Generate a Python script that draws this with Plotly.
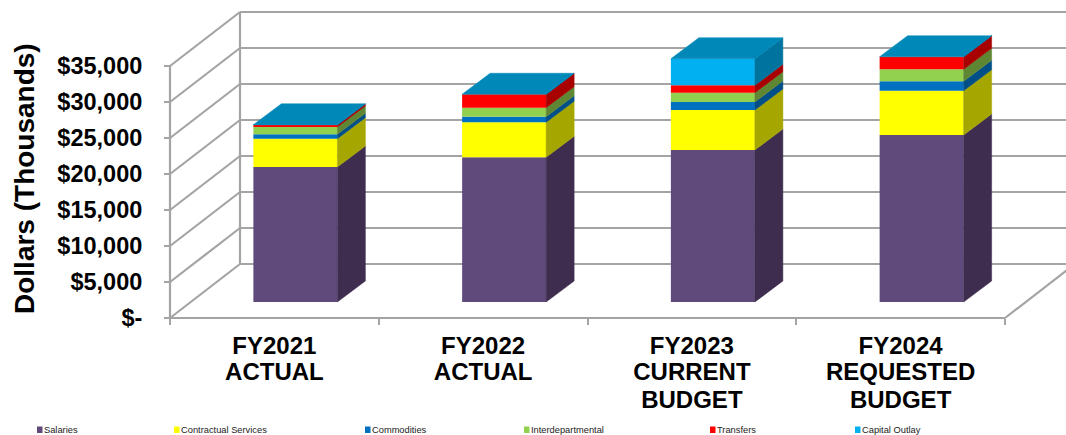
import plotly.graph_objects as go

# ---------- data ----------
series_names = ["Salaries", "Contractual Services", "Commodities", "Interdepartmental", "Transfers", "Capital Outlay"]
salaries = [18750, 20100, 21110, 23190]
contractual = [3930, 4860, 5555, 6150]
commodities = [610, 780, 1110, 1305]
interdepartmental = [1015, 1250, 1290, 1670]
transfers = [280, 1860, 1030, 1750]
capital_outlay = [30, 0, 3690, 0]
label_row1 = ["FY2021", "FY2022", "FY2023", "FY2024"]
label_row2 = ["ACTUAL", "ACTUAL", "CURRENT", "REQUESTED"]
label_row3 = ["", "", "BUDGET", "BUDGET"]
y_ticks = [0, 5000, 10000, 15000, 20000, 25000, 30000, 35000]
y_labels = ["$-", "$5,000", "$10,000", "$15,000", "$20,000", "$25,000", "$30,000", "$35,000"]
values = [salaries, contractual, commodities, interdepartmental, transfers, capital_outlay]

# ---------- style / layout ----------
W, H = 1066, 435
PX_X0, PX_Y0 = 170, 318          # pixel of the front floor corner
PX_PER_CAT = 208.75
PX_PER_VAL = 36 / 5000
front = ["#604A7B", "#FFFF00", "#0070C0", "#92D050", "#FF0000", "#00B0F0"]
side = ["#3F2D4F", "#A6A600", "#004F87", "#5F8733", "#A80000", "#00749E"]
top_color = "#0088B8"
grid = "#A4A4A4"
FONT = "Liberation Sans, Arial, sans-serif"


def dx(px):
    return px / PX_PER_CAT


def dv(px):
    return px / PX_PER_VAL


x_range = [dx(-PX_X0), dx(W - PX_X0)]
y_range = [dv(PX_Y0 - H), dv(PX_Y0)]
WALL_X, WALL_Y = dx(70), dv(54)       # depth of the chart box
BAR_X, BAR_Y = dx(21), dv(16)         # front plane of the bars
BAR_W = dx(84)
SIDE_X, SIDE_Y = dx(28), dv(21)       # depth of a bar

fig = go.Figure()

# the back wall is its own subplot: real y gridlines, lying under every other subplot
fig.add_trace(go.Scatter(x=[None], y=[None], xaxis="x", yaxis="y", showlegend=False, hoverinfo="skip"))

# front faces, side faces, top faces
for i, name in enumerate(series_names):
    base, xs = [], []
    for c in range(4):
        base.append(BAR_Y + sum(values[s][c] for s in range(i)))
        xs.append(c + 0.5 + BAR_X)
    fig.add_trace(go.Bar(x=xs, y=values[i], base=base, width=BAR_W, name=name, xaxis="x4", yaxis="y2",
                         marker=dict(color=front[i], line=dict(width=0)),
                         showlegend=False, hoverinfo="skip"))
for i, name in enumerate(series_names):
    for c in range(4):
        v0 = BAR_Y + sum(values[s][c] for s in range(i))
        v1 = v0 + values[i][c]
        xr = c + 0.5 + BAR_X + BAR_W / 2
        fig.add_trace(go.Scatter(
            x=[xr, xr + SIDE_X, xr + SIDE_X, xr, xr],
            y=[v0, v0 + SIDE_Y, v1 + SIDE_Y, v1, v0],
            xaxis="x4", yaxis="y2",
            mode="lines", fill="toself", fillcolor=side[i],
            line=dict(width=0.5, color=side[i]),
            showlegend=False, hoverinfo="skip"))
for c in range(4):
    v = BAR_Y + sum(values[s][c] for s in range(6))
    xl = c + 0.5 + BAR_X - BAR_W / 2
    xr = xl + BAR_W
    fig.add_trace(go.Scatter(
        x=[xl, xr, xr + SIDE_X, xl + SIDE_X, xl],
        y=[v, v, v + SIDE_Y, v + SIDE_Y, v],
        xaxis="x4", yaxis="y2",
        mode="lines", fill="toself", fillcolor=top_color,
        line=dict(width=0.5, color=top_color),
        showlegend=False, hoverinfo="skip"))


def seg(x0, y0, x1, y1):
    fig.add_trace(go.Scatter(x=[x0, x1], y=[y0, y1], mode="lines", xaxis="x4", yaxis="y2",
                             line=dict(color=grid, width=2.2, simplify=False),
                             showlegend=False, hoverinfo="skip"))


for t in y_ticks:
    seg(0, t, WALL_X, t + WALL_Y)              # left wall
seg(0, 0, 0, y_ticks[-1])                      # vertical front axis
seg(WALL_X, WALL_Y, WALL_X, y_ticks[-1] + WALL_Y)  # back corner
seg(0, 0, 4, 0)                                # floor front
seg(4, 0, 4 + WALL_X, WALL_Y)                  # floor right

# hand placed legend along the bottom edge
legend_px = [37, 174, 365, 524, 710, 855]
annotations = []
shapes = []
for name, colr, px in zip(series_names, front, legend_px):
    shapes.append(dict(type="rect", xref="paper", yref="paper",
                       x0=px / W, x1=(px + 5.5) / W, y0=1 - 433 / H, y1=1 - 426.5 / H,
                       line=dict(width=0), fillcolor=colr))
    annotations.append(dict(text=name, xref="paper", yref="paper", x=(px + 5) / W, y=1 - 429.5 / H,
                            xanchor="left", yanchor="middle", showarrow=False,
                            font=dict(size=9.3, color="#222222", family=FONT)))
annotations.append(dict(text="<b>Dollars (Thousands)</b>", xref="paper", yref="paper",
                        x=24.5 / W, y=1 - 178.5 / H, textangle=-90, showarrow=False,
                        xanchor="center", yanchor="middle",
                        font=dict(size=28, color="black", family=FONT)))


def row_axis(labels, px_y):
    return dict(range=x_range, domain=[0, 1], anchor="free", position=1 - px_y / H,
                tickmode="array", tickvals=[0.5, 1.5, 2.5, 3.5], ticktext=[f"<b>{s}</b>" if s else "" for s in labels],
                ticks="", showgrid=False, zeroline=False, showline=False, tickangle=0,
                tickfont=dict(size=24, color="black", family=FONT))


fig.update_layout(
    width=W, height=H, margin=dict(l=0, r=0, t=0, b=0), autosize=False,
    paper_bgcolor="white", plot_bgcolor="rgba(0,0,0,0)", barmode="overlay", showlegend=False,
    shapes=shapes, annotations=annotations,
    # back wall subplot
    xaxis=dict(range=[WALL_X, x_range[1]], domain=[(PX_X0 + 70) / W, 1], anchor="y",
               showticklabels=False, ticks="", showgrid=False, zeroline=False, showline=False),
    yaxis=dict(range=[y_range[0] - WALL_Y, y_range[1] - WALL_Y], domain=[0, 1], anchor="x",
               tickmode="array", tickvals=y_ticks, showticklabels=False, ticks="",
               showgrid=True, gridcolor=grid, gridwidth=2, zeroline=False, showline=False),
    # front plane subplot and its labelled axes
    xaxis5=row_axis(label_row1, 329),
    xaxis2={**row_axis(label_row2, 355), "overlaying": "x5"},
    xaxis3={**row_axis(label_row3, 383), "overlaying": "x5"},
    xaxis4=dict(range=x_range, domain=[0, 1], anchor="free", position=1 - PX_Y0 / H, overlaying="x5",
                tickmode="array", tickvals=[0, 1, 2, 3, 4], showticklabels=False,
                ticks="outside", ticklen=6, tickwidth=2, tickcolor=grid,
                showgrid=False, zeroline=False, showline=False),
    yaxis2=dict(range=y_range, domain=[0, 1], anchor="free", position=PX_X0 / W,
                tickmode="array", tickvals=y_ticks, ticktext=[f"<b>{s}</b>" for s in y_labels],
                ticks="outside", ticklen=6, tickwidth=2, tickcolor=grid, ticklabelstandoff=17,
                showgrid=False, zeroline=False, showline=False,
                tickfont=dict(size=23.5, color="black", family=FONT)),
)
for ax in ("x5", "x2", "x3"):
    fig.add_trace(go.Scatter(x=[None], y=[None], xaxis=ax, yaxis="y2", showlegend=False, hoverinfo="skip"))

fig.write_html("out.html", config=dict(displayModeBar=False),
               post_script="document.body.style.margin='0';")
